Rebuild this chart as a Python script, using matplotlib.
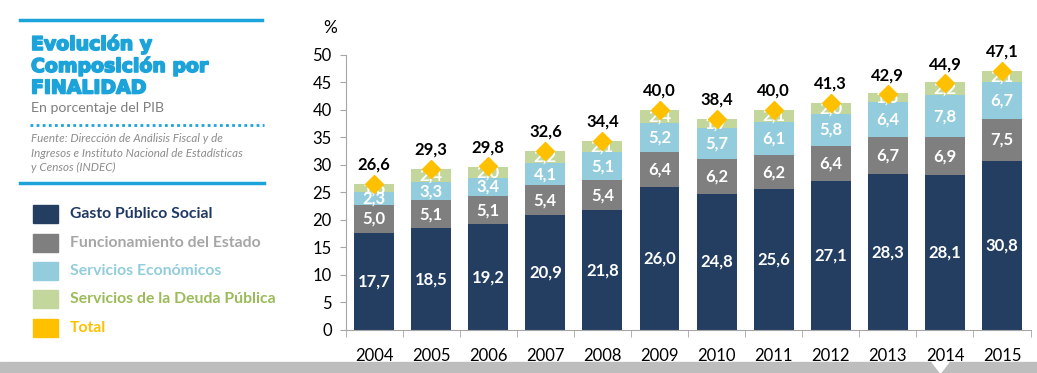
import matplotlib.pyplot as plt
import matplotlib.patheffects as pe
import numpy as np
from matplotlib.patches import Rectangle, Polygon

years = ['2004', '2005', '2006', '2007', '2008', '2009', '2010', '2011', '2012', '2013', '2014', '2015']
social = [17.7, 18.5, 19.2, 20.9, 21.8, 26.0, 24.8, 25.6, 27.1, 28.3, 28.1, 30.8]
funcionamiento = [5.0, 5.1, 5.1, 5.4, 5.4, 6.4, 6.2, 6.2, 6.4, 6.7, 6.9, 7.5]
economicos = [2.3, 3.3, 3.4, 4.1, 5.1, 5.2, 5.7, 6.1, 5.8, 6.4, 7.8, 6.7]
deuda = [1.6, 2.4, 2.0, 2.2, 2.1, 2.4, 1.7, 2.1, 2.0, 1.6, 2.2, 2.1]
total = [26.6, 29.3, 29.8, 32.6, 34.4, 40.0, 38.4, 40.0, 41.3, 42.9, 44.9, 47.1]

series_names = ['Gasto Público Social', 'Funcionamiento del Estado',
                'Servicios Económicos', 'Servicios de la Deuda Pública', 'Total']
bar_colors = ['#243e62', '#7f7f7f', '#93cddd', '#c3d69b']
text_colors = ['#1f3864', '#a6a6a6', '#92cddc', '#9bbb59', '#ffc000']
gold = '#ffc000'
blue = '#1ba3da'

plt.rcParams['font.family'] = ['Lato', 'DejaVu Sans']


def fmt(v):
    return f'{v:.1f}'.replace('.', ',')


fig = plt.figure(figsize=(10.37, 3.73), dpi=100)
ax = fig.add_axes([0.3332, 0.1153, 0.6606, 0.7373])

x = np.arange(len(years))
bottom = np.zeros(len(years))
for vals, col in zip([social, funcionamiento, economicos, deuda], bar_colors):
    vals = np.array(vals)
    ax.bar(x, vals, bottom=bottom, width=0.7, color=col, zorder=2)
    for xi, b, v in zip(x, bottom, vals):
        ax.text(xi, b + v / 2, fmt(v), ha='center', va='center', color='white',
                fontsize=12, fontweight='bold', zorder=4)
    bottom += vals

ax.plot(x, total, linestyle='none', marker='D', markersize=9, color=gold, zorder=5)
for xi, t in zip(x, total):
    ax.text(xi, t + 2.0, fmt(t), ha='center', va='bottom', color='black',
            fontsize=12, fontweight='bold')

ax.set_xlim(-0.5, len(years) - 0.5)
ax.set_ylim(0, 50)
ax.set_yticks(np.arange(0, 51, 5))
ax.set_xticks(x)
ax.set_xticklabels(years)
ax.set_xticks(np.arange(-0.5, len(years), 1), minor=True)
ax.tick_params(axis='x', which='major', length=0, pad=13, labelsize=12)
ax.tick_params(axis='x', which='minor', length=5, color='#a6a6a6')
ax.tick_params(axis='y', length=4, color='#a6a6a6', labelsize=12, pad=6)
for s in ['top', 'right']:
    ax.spines[s].set_visible(False)
for s in ['left', 'bottom']:
    ax.spines[s].set_color('#a6a6a6')
ax.text(-0.032, 1.07, '%', transform=ax.transAxes, fontsize=12.5, ha='left', va='bottom')

# left panel
fig.add_artist(plt.Line2D([20 / 1037, 262 / 1037], [1 - 20 / 373, 1 - 20 / 373],
                          color=blue, linewidth=2.5))
fig.add_artist(plt.Line2D([20 / 1037, 264 / 1037], [1 - 183 / 373, 1 - 183 / 373],
                          color=blue, linewidth=2.5))
fig.add_artist(plt.Line2D([30 / 1037, 264 / 1037], [1 - 125 / 373, 1 - 125 / 373],
                          color=blue, linewidth=2, linestyle=(0, (1, 1.2))))
for i, line in enumerate(['Evolución y', 'Composición por', 'FINALIDAD']):
    fig.text(31 / 1037, 1 - (44 + 22 * i) / 373, line, color=blue, fontsize=13.6,
             fontweight='bold', family=['DejaVu Sans'], va='center',
             path_effects=[pe.withStroke(linewidth=1.2, foreground=blue)])
fig.text(31 / 1037, 1 - 108 / 373, 'En porcentaje del PIB', color='#7f7f7f',
         fontsize=10.2, va='center')
for i, line in enumerate(['Fuente: Dirección de Análisis Fiscal y de',
                          'Ingresos e Instituto Nacional de Estadísticas',
                          'y Censos (INDEC)']):
    fig.text(31 / 1037, 1 - (139 + 14 * i) / 373, line, color='#8c8c8c',
             fontsize=8.4, style='italic', va='center')

legend_y = [214, 243, 271, 299, 328]
for name, col, tcol, yy in zip(series_names, bar_colors + [gold], text_colors, legend_y):
    fig.add_artist(Rectangle((33 / 1037, 1 - (yy + 9) / 373), 25 / 1037, 18 / 373,
                             color=col, transform=fig.transFigure))
    fig.text(70 / 1037, 1 - yy / 373, name, color=tcol, fontsize=11.3,
             fontweight='bold', va='center')

# gray band at the bottom
fig.add_artist(Rectangle((0, 0), 1, 11 / 373, color='#bdbdbd',
                         transform=fig.transFigure, zorder=0))
fig.add_artist(Polygon([[932 / 1037, 11 / 373], [949 / 1037, 11 / 373], [940.5 / 1037, 0]],
                       closed=True, color='white', transform=fig.transFigure, zorder=1))

fig.savefig('out.png', dpi=100)
